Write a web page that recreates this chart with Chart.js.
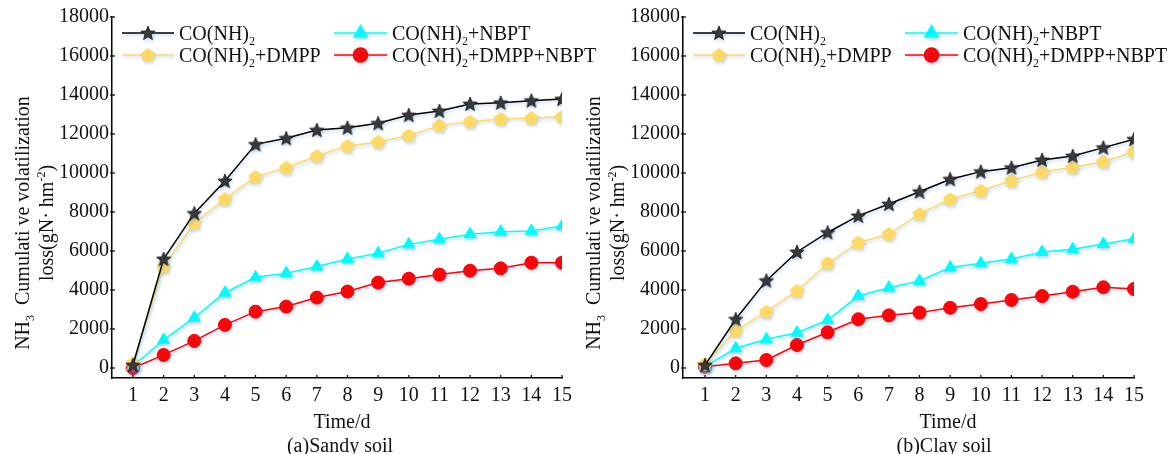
<!DOCTYPE html>
<html>
<head>
<meta charset="utf-8">
<script src="https://cdn.jsdelivr.net/npm/chart.js@4.4.1/dist/chart.umd.min.js"></script>
<style>
  html, body { margin: 0; padding: 0; background: #fff; width: 1175px; height: 454px; overflow: hidden; }
  body { position: relative; }
  canvas { position: absolute; top: 0; }
  #sandy { left: 0; }
  #clay { left: 575px; }
</style>
</head>
<body>
<canvas id="sandy" width="610" height="454" style="width:610px;height:454px"></canvas>
<canvas id="clay" width="600" height="454" style="width:600px;height:454px"></canvas>
<script>
// Jours de mesure
const days = [1, 2, 3, 4, 5, 6, 7, 8, 9, 10, 11, 12, 13, 14, 15];
const yTicks = [0, 2000, 4000, 6000, 8000, 10000, 12000, 14000, 16000, 18000];

// Noms des traitements (_{} = indice, ^{} = exposant)
const seriesNames = ["CO(NH)_{2}", "CO(NH)_{2}+DMPP", "CO(NH)_{2}+NBPT", "CO(NH)_{2}+DMPP+NBPT"];

// (a) Sol sableux
const sandyUrea = [150, 5590, 7930, 9590, 11470, 11780, 12200, 12320, 12550, 12970, 13180, 13540, 13600, 13710, 13790];
const sandyDmpp = [250, 5200, 7420, 8670, 9800, 10270, 10870, 11390, 11590, 11920, 12430, 12630, 12770, 12820, 12890];
const sandyNbpt = [100, 1440, 2580, 3860, 4650, 4860, 5200, 5590, 5880, 6340, 6600, 6860, 6990, 7030, 7280];
const sandyBoth = [0, 670, 1390, 2210, 2890, 3150, 3610, 3920, 4380, 4580, 4790, 4990, 5110, 5400, 5400];

// (b) Sol argileux
const clayUrea = [150, 2500, 4480, 5950, 6950, 7800, 8410, 9040, 9680, 10070, 10270, 10670, 10870, 11300, 11730];
const clayDmpp = [200, 1920, 2890, 3950, 5370, 6430, 6870, 7900, 8650, 9090, 9610, 10050, 10290, 10580, 11090];
const clayNbpt = [70, 1010, 1470, 1810, 2460, 3690, 4120, 4460, 5150, 5370, 5590, 5950, 6090, 6360, 6630];
const clayBoth = [70, 240, 410, 1180, 1830, 2500, 2700, 2840, 3090, 3280, 3490, 3690, 3910, 4140, 4050];

const yTitle1 = "NH_{3}  Cumulati ve volatilization";
const yTitle2 = "loss(gN· hm^{-2})";
const xTitle = "Time/d";

const FONT = '"Liberation Serif", "Times New Roman", serif';

// Marqueurs personnalisés
function starImg() {
  const c = document.createElement("canvas");
  c.width = c.height = 16;
  const g = c.getContext("2d");
  g.beginPath();
  for (let i = 0; i < 10; i++) {
    const r = i % 2 ? 3.2 : 7.5;
    const a = -Math.PI / 2 + i * Math.PI / 5;
    g.lineTo(8 + r * Math.cos(a), 8.5 + r * Math.sin(a));
  }
  g.closePath();
  g.fillStyle = "#3a3a3a";
  g.fill();
  g.strokeStyle = "#111";
  g.lineWidth = 0.8;
  g.stroke();
  return c;
}

function pentagonImg() {
  const c = document.createElement("canvas");
  c.width = c.height = 17;
  const g = c.getContext("2d");
  g.beginPath();
  for (let i = 0; i < 5; i++) {
    const a = -Math.PI / 2 + i * 2 * Math.PI / 5;
    g.lineTo(8.5 + 7.5 * Math.cos(a), 9 + 7.5 * Math.sin(a));
  }
  g.closePath();
  g.fillStyle = "#FFD966";
  g.fill();
  return c;
}

const star = starImg();
const pentagon = pentagonImg();

const styles = [
  { color: "#000000", fill: "#3a3a3a", point: star, radius: 7 },
  { color: "#FFD966", fill: "#FFD966", point: pentagon, radius: 7.5 },
  { color: "#00FFFF", fill: "#00FFFF", point: "triangle", radius: 7 },
  { color: "#FF0000", fill: "#FF0000", point: "circle", radius: 6.5 },
];

// Texte riche : indices et exposants
function parseRich(s) {
  const out = [];
  const re = /([_^])\{([^}]*)\}/g;
  let last = 0, m;
  while ((m = re.exec(s))) {
    if (m.index > last) out.push({ t: s.slice(last, m.index), k: "" });
    out.push({ t: m[2], k: m[1] });
    last = re.lastIndex;
  }
  if (last < s.length) out.push({ t: s.slice(last), k: "" });
  return out;
}

function drawRich(ctx, s, x, baseY, size, align) {
  const segs = parseRich(s);
  const small = Math.round(size * 0.62);
  let w = 0;
  segs.forEach(sg => {
    ctx.font = (sg.k ? small : size) + "px " + FONT;
    sg.w = ctx.measureText(sg.t).width;
    w += sg.w;
  });
  let cx = align === "center" ? x - w / 2 : x;
  ctx.textAlign = "left";
  ctx.textBaseline = "alphabetic";
  segs.forEach(sg => {
    ctx.font = (sg.k ? small : size) + "px " + FONT;
    let dy = 0;
    if (sg.k === "_") dy = size * 0.25;
    if (sg.k === "^") dy = -size * 0.42;
    ctx.fillText(sg.t, cx, baseY + dy);
    cx += sg.w;
  });
}

// Ombre bleutée sous les courbes
const shadowPlugin = {
  id: "shadow",
  beforeDatasetsDraw(chart) {
    const c = chart.ctx;
    c.save();
    c.shadowColor = "rgba(80,150,220,0.35)";
    c.shadowBlur = 3;
    c.shadowOffsetX = 1;
    c.shadowOffsetY = 2;
  },
  afterDatasetsDraw(chart) {
    chart.ctx.restore();
  }
};

// Légende, titres et petites graduations
const decorPlugin = {
  id: "decor",
  afterDraw(chart, args, opts) {
    const ctx = chart.ctx;
    const area = chart.chartArea;
    const xScale = chart.scales.x;
    const yScale = chart.scales.y;
    ctx.save();
    ctx.fillStyle = "#111";

    // graduations vers l'intérieur
    ctx.strokeStyle = "#000";
    ctx.lineWidth = 1.2;
    yTicks.forEach(v => {
      const y = yScale.getPixelForValue(v);
      ctx.beginPath();
      ctx.moveTo(area.left - 2, y);
      ctx.lineTo(area.left + 3, y);
      ctx.stroke();
    });
    days.forEach(d => {
      const x = xScale.getPixelForValue(d);
      ctx.beginPath();
      ctx.moveTo(x, area.bottom);
      ctx.lineTo(x, area.bottom - 3);
      ctx.stroke();
    });

    // légende sur deux colonnes
    const cols = [[10, 62, 67], [222, 275, 280]];
    const rows = [33, 55];
    const order = [[0, 0, 0], [1, 0, 1], [2, 1, 0], [3, 1, 1]];
    order.forEach(([i, col, row]) => {
      const st = styles[i];
      const [x0, x1, tx] = cols[col];
      const y = rows[row];
      ctx.save();
      ctx.shadowColor = "rgba(80,150,220,0.35)";
      ctx.shadowBlur = 3;
      ctx.shadowOffsetX = 1;
      ctx.shadowOffsetY = 2;
      ctx.strokeStyle = st.color;
      ctx.lineWidth = 1.5;
      ctx.beginPath();
      ctx.moveTo(area.left + x0, y);
      ctx.lineTo(area.left + x1, y);
      ctx.stroke();
      ctx.fillStyle = st.fill;
      ctx.strokeStyle = st.fill;
      Chart.helpers.drawPoint(ctx, { pointStyle: st.point, radius: st.radius + 0.5, rotation: 0, borderWidth: 1 }, area.left + (x0 + x1) / 2, y);
      ctx.restore();
      ctx.fillStyle = "#111";
      drawRich(ctx, seriesNames[i], area.left + tx, y + 7, 20, "left");
    });

    // titre de l'axe Y (deux lignes)
    const cy = 223;
    [[opts.yTitleX1, yTitle1], [opts.yTitleX2, yTitle2]].forEach(([x, txt]) => {
      ctx.save();
      ctx.translate(x, cy);
      ctx.rotate(-Math.PI / 2);
      drawRich(ctx, txt, 0, 7, 20, "center");
      ctx.restore();
    });

    // titre de l'axe X et légende du panneau
    drawRich(ctx, xTitle, opts.titleX, 428, 20, "center");
    drawRich(ctx, opts.caption, opts.captionX, 452, 20, "center");
    ctx.restore();
  }
};

function makeChart(id, values, o) {
  const datasets = values.map((vals, i) => ({
    label: seriesNames[i],
    data: days.map((d, k) => ({ x: d, y: vals[k] })),
    borderColor: styles[i].color,
    borderWidth: 1.5,
    pointStyle: styles[i].point,
    pointRadius: styles[i].radius,
    pointBackgroundColor: styles[i].fill,
    pointBorderColor: styles[i].fill,
    pointBorderWidth: 1,
    tension: 0,
    fill: false,
  }));

  return new Chart(document.getElementById(id), {
    type: "line",
    data: { datasets },
    plugins: [shadowPlugin, decorPlugin],
    options: {
      responsive: false,
      animation: false,
      layout: { padding: { left: 0, top: 17, right: o.padRight, bottom: 0 } },
      plugins: {
        legend: { display: false },
        tooltip: { enabled: false },
        decor: o,
      },
      scales: {
        x: {
          type: "linear",
          min: o.xMin,
          max: 15,
          afterBuildTicks: s => { s.ticks = days.map(v => ({ value: v })); },
          afterFit: s => { s.height = 76; },
          ticks: {
            autoSkip: false,
            maxRotation: 0,
            padding: 6,
            color: "#111",
            font: { family: FONT, size: 20 },
            callback: v => String(v),
          },
          grid: { drawOnChartArea: false, drawTicks: false },
          border: { color: "#000", width: 1.5 },
        },
        y: {
          min: -513,
          max: 18000,
          afterBuildTicks: s => { s.ticks = yTicks.map(v => ({ value: v })); },
          afterFit: s => { s.width = o.yWidth; },
          ticks: {
            padding: 3,
            color: "#111",
            font: { family: FONT, size: 20 },
            callback: v => String(v),
          },
          grid: { drawOnChartArea: false, drawTicks: false },
          border: { color: "#000", width: 1.5 },
        },
      },
    },
  });
}

makeChart("sandy", [sandyUrea, sandyDmpp, sandyNbpt, sandyBoth], {
  xMin: 0.315, yWidth: 112, padRight: 48,
  yTitleX1: 22, yTitleX2: 46,
  titleX: 342, captionX: 340, caption: "(a)Sandy soil",
});

makeChart("clay", [clayUrea, clayDmpp, clayNbpt, clayBoth], {
  xMin: 0.28, yWidth: 108, padRight: 41,
  yTitleX1: 18, yTitleX2: 42,
  titleX: 373, captionX: 369, caption: "(b)Clay soil",
});
</script>
</body>
</html>
